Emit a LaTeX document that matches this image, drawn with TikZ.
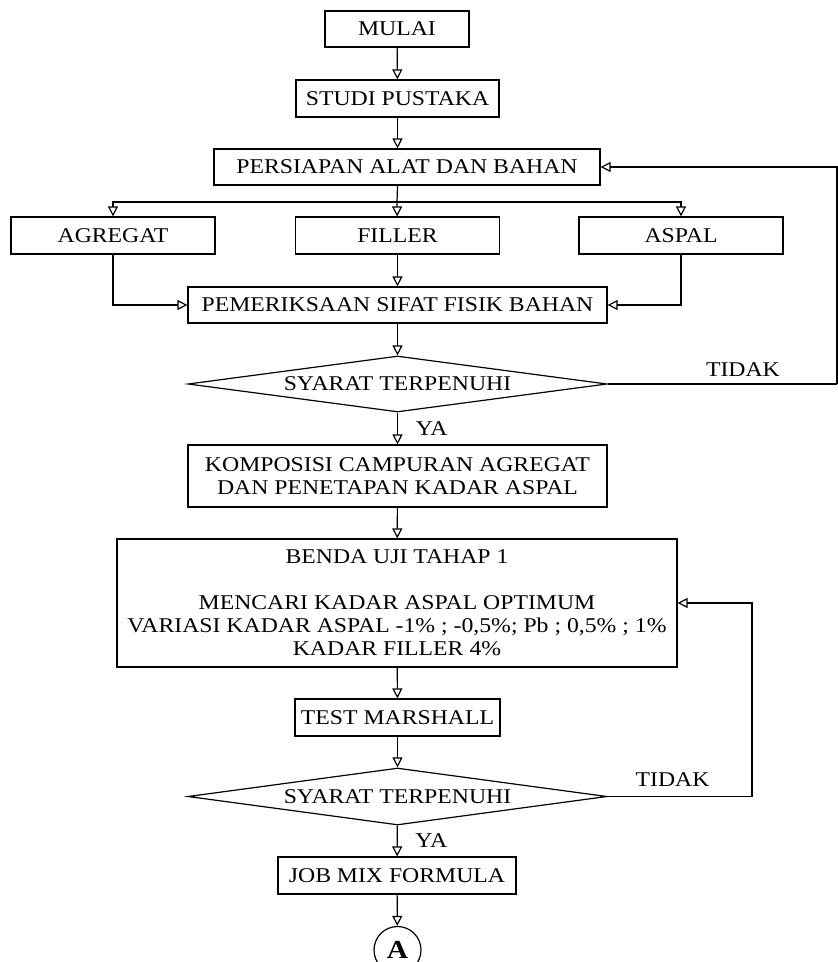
\documentclass[tikz,border=0pt]{standalone}
\usepackage{fontspec}
\setmainfont{Liberation Serif}[FakeStretch=1.13]
\usepackage{tikz}
\usetikzlibrary{arrows.meta,shapes.geometric}

\begin{document}
\begin{tikzpicture}[x=0.5pt, y=-0.5pt, line width=0.6pt,
            every node/.style = {font=\fontsize{10.5}{11.5}\selectfont},
            box/.style = {shape=rectangle, draw, align=center, inner sep=2pt},
            decision/.style = {shape=diamond, draw, inner sep=0pt, minimum width=209.5pt},
            arr/.style = {-{Triangle[open, length=5pt, width=5pt]}}]
    \useasboundingbox (0,0) rectangle (838,962);
    % alur utama
    \node[box, minimum width=72pt, minimum height=18pt] (mulai) at (397,29) {MULAI};
    \node[box, minimum width=101.5pt, minimum height=18.5pt] (studi) at (397.5,98.5) {STUDI PUSTAKA};
    \node[box, minimum width=193pt, minimum height=18pt] (persiapan) at (407,167) {PERSIAPAN ALAT DAN BAHAN};
    \node[box, minimum width=102pt, minimum height=18.5pt] (agregat) at (113,235.5) {AGREGAT};
    \node[box, minimum width=102pt, minimum height=18.5pt] (filler) at (397.5,235.5) {FILLER};
    \node[box, minimum width=102pt, minimum height=18.5pt] (aspal) at (681,235.5) {ASPAL};
    \node[box, minimum width=209.5pt, minimum height=18pt] (periksa) at (397.5,305) {PEMERIKSAAN SIFAT FISIK BAHAN};
    \node[decision, aspect=7.5, minimum height=28pt] (syarat1) at (397.5,384) {SYARAT TERPENUHI};
    \node[box, minimum width=209.5pt, minimum height=31pt] (komposisi) at (397.5,476) {KOMPOSISI CAMPURAN AGREGAT\\DAN PENETAPAN KADAR ASPAL};
    \node[box, minimum width=280pt, minimum height=64pt] (benda) at (397,603)
        {BENDA UJI TAHAP 1\\[11.5pt]MENCARI KADAR ASPAL OPTIMUM\\VARIASI KADAR ASPAL -1\% ; -0,5\%; Pb ; 0,5\% ; 1\%\\KADAR FILLER 4\%};
    \node[box, minimum width=102.5pt, minimum height=18.5pt] (marshall) at (397.5,717.5) {TEST MARSHALL};
    \node[decision, aspect=7.3, minimum height=28.5pt] (syarat2) at (397.5,796.5) {SYARAT TERPENUHI};
    \node[box, minimum width=119pt, minimum height=18.5pt] (jmf) at (397,875.5) {JOB MIX FORMULA};
    \node[shape=circle, draw, minimum size=23.5pt, inner sep=0pt, font=\fontsize{13}{13}\selectfont\bfseries] (a) at (397.5,950) {A};
    % titik bantu
    \coordinate (cabang) at (397,202);
    \coordinate (tepi1) at (837,384);
    \coordinate (tepi2) at (752,796.5);
    % panah
    \draw[arr] (mulai) -- (studi);
    \draw[arr] (studi.south) -- (studi.south |- persiapan.north);
    \draw (studi.south |- persiapan.south) -- (cabang);
    \draw[arr] (cabang) -| (agregat);
    \draw[arr] (cabang) -- (filler);
    \draw[arr] (cabang) -| (aspal);
    \draw[arr] (agregat) |- (periksa);
    \draw[arr] (filler) -- (periksa);
    \draw[arr] (aspal) |- (periksa);
    \draw[arr] (periksa) -- (syarat1);
    \draw (syarat1.east) -- node[pos=0.59, above] {TIDAK} (tepi1);
    \draw[arr] (tepi1) |- (persiapan.east);
    \draw[arr] (syarat1) -- node[anchor=west, xshift=5.5pt] {YA} (komposisi);
    \draw[arr] (komposisi) -- (benda);
    \draw[arr] (benda) -- (marshall);
    \draw[arr] (marshall) -- (syarat2);
    \draw (syarat2.east) -- node[pos=0.45, above, yshift=1.5pt] {TIDAK} (tepi2);
    \draw[arr] (tepi2) |- (benda.east);
    \draw[arr] (syarat2) -- node[anchor=west, xshift=5.5pt] {YA} (jmf);
    \draw[arr] (jmf) -- (a);
\end{tikzpicture}
\end{document}
